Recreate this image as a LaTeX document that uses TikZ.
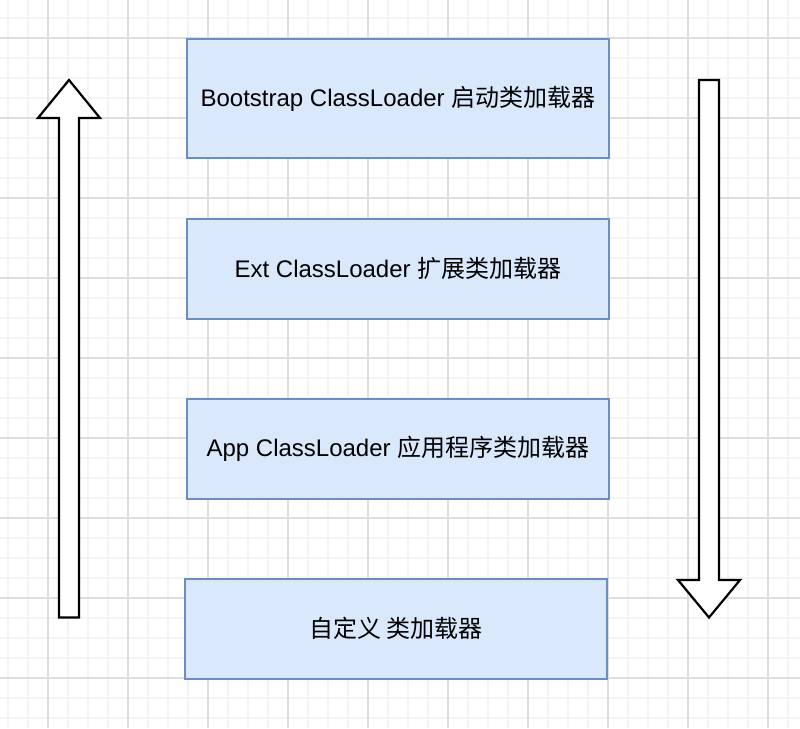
\documentclass[tikz,border=0pt]{standalone}
\usepackage{fontspec}
\setmainfont{Liberation Sans}
\newfontfamily\cjk{Noto Sans CJK SC}
\definecolor{boxfill}{HTML}{DAE8FC}
\definecolor{boxline}{HTML}{6C8EBF}
\definecolor{gridminor}{HTML}{F4F4F4}
\definecolor{gridmajor}{HTML}{DEDEDE}
\tikzset{
  loader/.style={draw=boxline, fill=boxfill, line width=2pt, minimum width=422pt, minimum height=100pt, inner sep=0pt, font=\fontsize{24}{28}\selectfont, text=black},
  blockarrow/.style={draw=black, fill=white, line width=2.2pt, line join=miter},
}
\begin{document}
\begin{tikzpicture}[x=1pt,y=-1pt]
\useasboundingbox (0,0) rectangle (800,728);
\fill[white] (0,0) rectangle (800,728);
% minor grid
\foreach \i in {0,...,39} {\draw[gridminor, line width=1.5pt] (8+20*\i,0) -- (8+20*\i,728);}
\foreach \j in {0,...,35} {\draw[gridminor, line width=1.5pt] (0,18+20*\j) -- (800,18+20*\j);}
% major grid
\foreach \i in {0,...,9} {\draw[gridmajor, line width=1.5pt] (48+80*\i,0) -- (48+80*\i,728);}
\foreach \j in {0,...,8} {\draw[gridmajor, line width=1.5pt] (0,38+80*\j) -- (800,38+80*\j);}
% boxes
\node[loader, minimum height=119pt] (boot) at (398,98.5) {Bootstrap ClassLoader {\cjk 启动类加载器}};
\node[loader] (ext) at (398,268.5) {Ext ClassLoader {\cjk 扩展类加载器}};
\node[loader] (app) at (398,448.5) {App ClassLoader {\cjk 应用程序类加载器}};
\node[loader] (custom) at (396,628.5) {{\cjk 自定义 类加载器}};
% block arrows
\draw[blockarrow] (59,617.5) -- (79,617.5) -- (79,118) -- (100,118) -- (69,80) -- (38,118) -- (59,118) -- cycle;
\draw[blockarrow] (699,80) -- (719,80) -- (719,580) -- (740,580) -- (709,617.5) -- (678,580) -- (699,580) -- cycle;
\end{tikzpicture}
\end{document}
